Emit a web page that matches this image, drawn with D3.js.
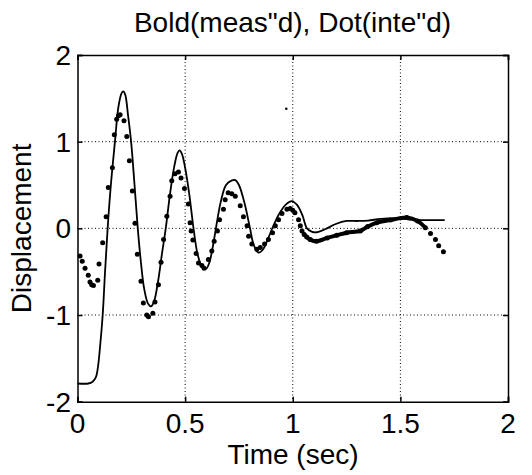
<!DOCTYPE html>
<html>
<head>
<meta charset="utf-8">
<script src="https://cdn.jsdelivr.net/npm/d3@7"></script>
<style>
  html, body { margin: 0; padding: 0; background: #fff; }
  svg { display: block; }
  text { font-family: "Liberation Sans", Arial, sans-serif; fill: #000; }
</style>
</head>
<body>
<svg id="chart" width="532" height="475"></svg>
<script>
// ---- data ----
const titleText = 'Bold(meas"d), Dot(inte"d)';
const xLabel = "Time (sec)";
const yLabel = "Displacement";
const xTicks = [0, 0.5, 1, 1.5, 2];
const yTicks = [-2, -1, 0, 1, 2];
const xTickLabels = ["0", "0.5", "1", "1.5", "2"];
const yTickLabels = ["-2", "-1", "0", "1", "2"];

// solid curve: [time, displacement]
const solidT = [0, 0.05, 0.07, 0.085, 0.095, 0.105, 0.117, 0.128, 0.14, 0.155, 0.174, 0.19, 0.205, 0.213, 0.222, 0.235, 0.249, 0.265, 0.28, 0.295, 0.31, 0.328, 0.342, 0.356, 0.375, 0.392, 0.41, 0.43, 0.45, 0.465, 0.474, 0.485, 0.5, 0.52, 0.539, 0.558, 0.578, 0.596, 0.612, 0.628, 0.643, 0.665, 0.69, 0.715, 0.733, 0.75, 0.775, 0.8, 0.82, 0.841, 0.86, 0.88, 0.91, 0.94, 0.97, 0.996, 1.02, 1.045, 1.066, 1.09, 1.11, 1.15, 1.2, 1.25, 1.3, 1.35, 1.41, 1.5, 1.55, 1.6, 1.706];
const solidV = [-1.79, -1.79, -1.77, -1.72, -1.6, -1.36, -1.0, -0.5, 0, 0.5, 1.0, 1.4, 1.56, 1.58, 1.54, 1.3, 1.0, 0.5, 0, -0.4, -0.7, -0.87, -0.9, -0.84, -0.6, -0.3, 0, 0.4, 0.72, 0.87, 0.9, 0.86, 0.7, 0.38, 0, -0.3, -0.44, -0.47, -0.4, -0.22, 0, 0.3, 0.5, 0.55, 0.557, 0.5, 0.3, 0.02, -0.2, -0.28, -0.25, -0.15, 0.03, 0.18, 0.28, 0.315, 0.27, 0.15, 0.0, -0.04, -0.045, -0.01, 0.05, 0.085, 0.085, 0.09, 0.11, 0.115, 0.1, 0.095, 0.095];

// dotted series
const dotT = [0.012, 0.022, 0.035, 0.05, 0.058, 0.066, 0.074, 0.094, 0.1, 0.117, 0.133, 0.143, 0.162, 0.171, 0.182, 0.19, 0.198, 0.216, 0.229, 0.241, 0.255, 0.267, 0.278, 0.295, 0.306, 0.322, 0.33, 0.35, 0.36, 0.376, 0.388, 0.4, 0.415, 0.43, 0.438, 0.453, 0.469, 0.481, 0.497, 0.515, 0.523, 0.528, 0.536, 0.551, 0.562, 0.578, 0.588, 0.608, 0.624, 0.635, 0.65, 0.66, 0.678, 0.686, 0.7, 0.717, 0.733, 0.756, 0.771, 0.788, 0.795, 0.81, 0.833, 0.849, 0.869, 0.887, 0.906, 0.919, 0.934, 0.95, 0.973, 0.988, 1.0, 1.01, 1.027, 1.035, 1.043, 1.053, 1.065, 1.081, 1.11, 1.16, 1.205, 1.25, 1.314, 1.348, 1.39, 1.453, 1.53, 1.58, 1.616, 1.64, 1.663, 1.678, 1.70];
const dotV = [-0.32, -0.38, -0.46, -0.54, -0.62, -0.65, -0.66, -0.6, -0.41, -0.165, 0.135, 0.47, 0.7, 1.08, 1.26, 1.3, 1.31, 1.24, 1.06, 0.78, 0.43, 0.06, -0.3, -0.61, -0.86, -1.0, -1.02, -0.98, -0.85, -0.65, -0.39, -0.13, 0.14, 0.37, 0.55, 0.63, 0.65, 0.58, 0.46, 0.28, 0.065, -0.03, -0.135, -0.29, -0.4, -0.43, -0.46, -0.36, -0.26, -0.15, -0.03, 0.1, 0.22, 0.33, 0.41, 0.4, 0.37, 0.26, 0.135, 0.03, -0.09, -0.18, -0.24, -0.22, -0.18, -0.13, -0.05, 0.03, 0.10, 0.17, 0.22, 0.23, 0.21, 0.18, 0.10, 0.03, -0.03, -0.07, -0.1, -0.13, -0.15, -0.11, -0.08, -0.05, -0.03, 0.02, 0.066, 0.095, 0.125, 0.085, 0.008, -0.06, -0.13, -0.2, -0.27];
// stray speck in the plot
const speckT = [0.97];
const speckV = [1.38];

// ---- layout ----
const svg = d3.select("#chart");
const x = d3.scaleLinear().domain([0, 2]).range([77.5, 508]);
const y = d3.scaleLinear().domain([-2, 2]).range([401.7, 55]);
const FS = 28;

// grid
const grid = svg.append("g").attr("stroke", "#000").attr("stroke-width", 1).attr("stroke-dasharray", "1,2.5");
grid.selectAll(".gx").data(xTicks.slice(1, -1)).join("line")
  .attr("x1", d => x(d)).attr("x2", d => x(d)).attr("y1", y(2)).attr("y2", y(-2));
grid.selectAll(".gy").data(yTicks.slice(1, -1)).join("line")
  .attr("y1", d => y(d)).attr("y2", d => y(d)).attr("x1", x(0)).attr("x2", x(2));

// axes box with inward ticks
const axB = d3.axisBottom(x).tickValues(xTicks).tickSize(-5).tickFormat(() => "");
const axT = d3.axisTop(x).tickValues(xTicks).tickSize(-5).tickFormat(() => "");
const axL = d3.axisLeft(y).tickValues(yTicks).tickSize(-5).tickFormat(() => "");
const axR = d3.axisRight(y).tickValues(yTicks).tickSize(-5).tickFormat(() => "");
[[axB, `translate(0,${y(-2)})`], [axT, `translate(0,${y(2)})`], [axL, `translate(${x(0)},0)`], [axR, `translate(${x(2)},0)`]]
  .forEach(([a, tr]) => {
    const g = svg.append("g").attr("transform", tr).call(a);
    g.selectAll("path,line").attr("stroke", "#000").attr("stroke-width", 1.5);
  });

// tick labels
svg.append("g").selectAll("text").data(xTicks).join("text")
  .attr("x", d => x(d)).attr("y", 433).attr("text-anchor", "middle")
  .attr("font-size", FS).text((d, i) => xTickLabels[i]);
svg.append("g").selectAll("text").data(yTicks).join("text")
  .attr("x", 71).attr("y", d => y(d)).attr("dy", "0.36em").attr("text-anchor", "end")
  .attr("font-size", FS).text((d, i) => yTickLabels[i]);

// titles
svg.append("text").attr("x", 292.5).attr("y", 32).attr("text-anchor", "middle")
  .attr("font-size", FS).text(titleText);
svg.append("text").attr("x", 293).attr("y", 464).attr("text-anchor", "middle")
  .attr("font-size", FS).text(xLabel);
svg.append("text").attr("transform", `translate(31,${y(0)}) rotate(-90)`)
  .attr("text-anchor", "middle").attr("font-size", FS).text(yLabel);

// solid line
const solid = solidT.map((t, i) => [t, solidV[i]]);
svg.append("path").datum(solid)
  .attr("fill", "none").attr("stroke", "#000").attr("stroke-width", 1.8)
  .attr("d", d3.line().x(d => x(d[0])).y(d => y(d[1])).curve(d3.curveCatmullRom.alpha(0.5)));

// dotted series
const dots = dotT.map((t, i) => [t, dotV[i]]);
// dense tail drawn as thick line through the same points
const dense = dots.filter(d => d[0] >= 1.05 && d[0] <= 1.62);
svg.append("path").datum(dense)
  .attr("fill", "none").attr("stroke", "#000").attr("stroke-width", 4).attr("stroke-linecap", "round")
  .attr("d", d3.line().x(d => x(d[0])).y(d => y(d[1])).curve(d3.curveCatmullRom.alpha(0.5)));
svg.append("g").selectAll("circle").data(dots).join("circle")
  .attr("cx", d => x(d[0])).attr("cy", d => y(d[1])).attr("r", 2.5).attr("fill", "#000");

// speck
svg.append("g").selectAll("circle").data(speckT.map((t, i) => [t, speckV[i]])).join("circle")
  .attr("cx", d => x(d[0])).attr("cy", d => y(d[1])).attr("r", 1.3).attr("fill", "#000");
</script>
</body>
</html>
